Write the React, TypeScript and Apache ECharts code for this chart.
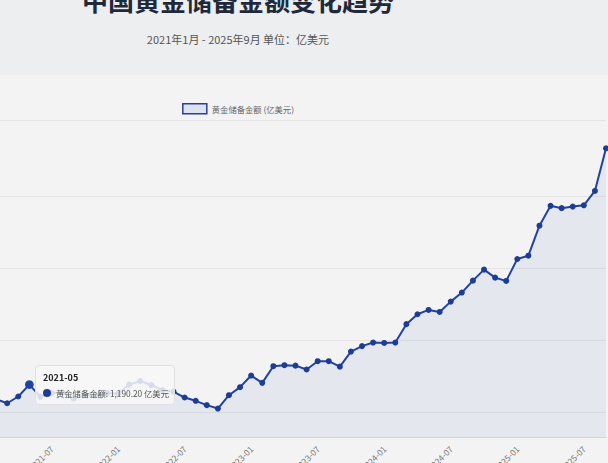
import React, { useEffect, useRef } from 'react'
import * as echarts from 'echarts'

const months = [
  '2021-01', '2021-02', '2021-03', '2021-04', '2021-05', '2021-06', '2021-07', '2021-08', '2021-09', '2021-10', '2021-11', '2021-12',
  '2022-01', '2022-02', '2022-03', '2022-04', '2022-05', '2022-06', '2022-07', '2022-08', '2022-09', '2022-10', '2022-11', '2022-12',
  '2023-01', '2023-02', '2023-03', '2023-04', '2023-05', '2023-06', '2023-07', '2023-08', '2023-09', '2023-10', '2023-11', '2023-12',
  '2024-01', '2024-02', '2024-03', '2024-04', '2024-05', '2024-06', '2024-07', '2024-08', '2024-09', '2024-10', '2024-11', '2024-12',
  '2025-01', '2025-02', '2025-03', '2025-04', '2025-05', '2025-06', '2025-07', '2025-08', '2025-09'
]

// 黄金储备金额 (亿美元)
const reserves = [
  1167, 1088, 1060, 1107, 1190.2, 1105, 1131, 1135, 1092, 1117, 1113, 1131,
  1126, 1190, 1215, 1187, 1152, 1141, 1100, 1077, 1047, 1023, 1116, 1172,
  1253, 1202, 1318, 1325, 1322, 1295, 1353, 1353, 1315, 1420, 1458, 1483,
  1480, 1483, 1611, 1680, 1710, 1696, 1768, 1831, 1914, 1991, 1935, 1912,
  2065, 2088, 2297, 2435, 2419, 2430, 2439, 2539, 2836
]

const gridValues = [1000, 1500, 2000, 2500]
const yMin = 825
const yMax = 3033

const title = '中国黄金储备金额变化趋势'
const subtitle = '2021年1月 - 2025年9月 单位：亿美元'
const seriesName = '黄金储备金额 (亿美元)'
const tipLabel = '黄金储备金额'
const tipIndex = 4

const FONT = '"Noto Sans CJK SC", "Noto Sans", sans-serif'
const LINE = '#1f3c94'

// the page is wider than the window: content is centred at x=238
const PAGE_LEFT = -140
const PAGE_W = 756
const CHART_TOP = 75
const CHART_H = 420

const App: React.FC = () => {
  const chartRef = useRef<HTMLDivElement>(null)

  useEffect(() => {
    if (!chartRef.current) return
    const chart = echarts.init(chartRef.current, null, { renderer: 'svg' })

    const option: any = {
      animation: false,
      textStyle: { fontFamily: FONT },
      legend: {
        top: 23,
        left: 'center',
        data: [{ name: seriesName, icon: 'rect' }],
        itemWidth: 24,
        itemHeight: 10,
        itemStyle: { color: '#dce2ef', borderColor: '#2b3f96', borderWidth: 1.5 },
        textStyle: { color: '#666', fontSize: 8.3, fontFamily: FONT },
        selectedMode: false
      },
      grid: { left: 125, right: 10, top: 45, bottom: CHART_H - (437 - CHART_TOP) },
      tooltip: {
        trigger: 'item',
        triggerOn: 'none',
        alwaysShowContent: true,
        transitionDuration: 0,
        backgroundColor: 'rgba(247,247,247,0.86)',
        borderColor: '#e0e0e0',
        borderWidth: 1,
        padding: [5, 5, 3, 7],
        extraCssText: 'box-shadow:none;border-radius:4px;',
        textStyle: { fontFamily: FONT, fontSize: 9, color: '#555' },
        position: () => [35 - PAGE_LEFT, 365 - CHART_TOP],
        formatter: (p: any) => {
          const v = Number(p.value).toLocaleString('en-US', { minimumFractionDigits: 2, maximumFractionDigits: 2 })
          return (
            `<div style="font-weight:700;color:#222;font-size:9px;line-height:14px">${p.name}</div>` +
            `<div style="display:flex;align-items:center;font-size:8.3px;line-height:16px;color:#555;white-space:nowrap">` +
            `<span style="display:inline-block;flex:0 0 8px;width:8px;height:8px;border-radius:50%;background:${LINE};margin-right:5px"></span>` +
            `${tipLabel}: ${v} 亿美元</div>`
          )
        }
      },
      xAxis: {
        type: 'category',
        boundaryGap: false,
        data: months,
        axisLine: { lineStyle: { color: '#d6d6d6', width: 1 } },
        axisTick: { show: false },
        axisLabel: {
          interval: 5,
          rotate: 45,
          margin: 10,
          color: '#777',
          fontSize: 8.5,
          fontFamily: FONT
        },
        splitLine: { show: false }
      },
      yAxis: {
        type: 'value',
        min: yMin,
        max: yMax,
        axisLine: { show: false },
        axisTick: { show: false },
        axisLabel: { show: false },
        splitLine: { show: false }
      },
      series: [
        {
          name: seriesName,
          type: 'line',
          data: reserves,
          z: 3,
          smooth: false,
          symbol: 'circle',
          symbolSize: 6,
          showAllSymbol: true,
          itemStyle: { color: LINE },
          lineStyle: { color: LINE, width: 2 },
          areaStyle: { color: 'rgba(40,72,170,0.1)' },
          emphasis: { scale: 1.45, lineStyle: { width: 2 } },
          markLine: {
            silent: true,
            z: 1,
            symbol: ['none', 'none'],
            label: { show: false },
            lineStyle: { color: '#e3e3e3', type: 'solid', width: 1 },
            data: gridValues.concat([yMax]).map(v => ({ yAxis: v }))
          }
        }
      ]
    }

    chart.setOption(option)
    chart.dispatchAction({ type: 'highlight', seriesIndex: 0, dataIndex: tipIndex })
    chart.dispatchAction({ type: 'showTip', seriesIndex: 0, dataIndex: tipIndex })

    return () => {
      chart.dispose()
    }
  }, [])

  return (
    <div style={{ position: 'fixed', left: 0, top: 0, width: 608, height: 463, overflow: 'hidden', background: '#f3f3f3', fontFamily: FONT }}>
      {/* header band */}
      <div style={{ position: 'absolute', left: 0, top: 0, width: 608, height: CHART_TOP, background: '#eceeef' }} />
      <div style={{ position: 'absolute', left: PAGE_LEFT, width: PAGE_W, top: -13, textAlign: 'center', fontSize: 26, lineHeight: '26px', fontWeight: 700, color: '#1e293b', whiteSpace: 'nowrap' }}>
        {title}
      </div>
      <div style={{ position: 'absolute', left: PAGE_LEFT, width: PAGE_W, top: 33, textAlign: 'center', fontSize: 11, lineHeight: '12px', color: '#555', whiteSpace: 'nowrap' }}>
        {subtitle}
      </div>

      {/* chart */}
      <div ref={chartRef} style={{ position: 'absolute', left: PAGE_LEFT, top: CHART_TOP, width: PAGE_W, height: CHART_H }} />
    </div>
  )
}

export default App
